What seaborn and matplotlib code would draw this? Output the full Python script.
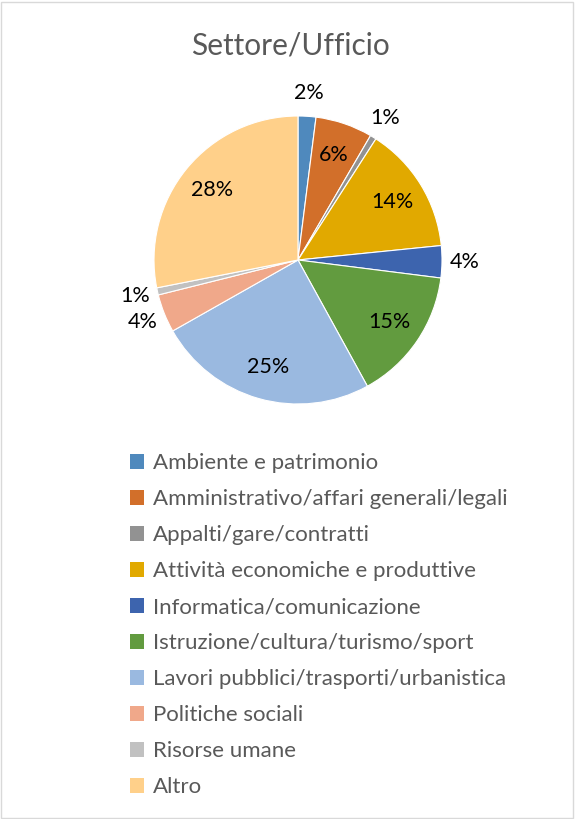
import matplotlib
matplotlib.use("Agg")
import matplotlib.pyplot as plt
import matplotlib.patches as mpatches
import numpy as np
import seaborn as sns

# --- data ---
categories = [
    "Ambiente e patrimonio",
    "Amministrativo/affari generali/legali",
    "Appalti/gare/contratti",
    "Attività economiche e produttive",
    "Informatica/comunicazione",
    "Istruzione/cultura/turismo/sport",
    "Lavori pubblici/trasporti/urbanistica",
    "Politiche sociali",
    "Risorse umane",
    "Altro",
]
shares = [2.0, 6.4, 0.7, 14.3, 3.6, 15.0, 24.8, 4.3, 0.8, 28.1]
colors = ["#4F89BD", "#D26F2A", "#929292", "#E1A900", "#3D64AE",
          "#629B3F", "#9AB9E0", "#F0A88A", "#C1C1C1", "#FFD08A"]
outside = [True, False, True, False, True, False, False, True, True, False]

sns.set_theme(style="white")
plt.rcParams["font.family"] = ["Lato", "DejaVu Sans"]

W, H, DPI = 575, 819, 100
fig = plt.figure(figsize=(W / DPI, H / DPI), dpi=DPI)

# pie axes: centre (298, 260) px, radius 144 px
cx, cy, r = 298, 260, 144
ax = fig.add_axes([(cx - r) / W, (H - cy - r) / H, 2 * r / W, 2 * r / H])
wedges, texts, autotexts = ax.pie(
    shares, colors=colors, startangle=90, counterclock=False,
    autopct="%.0f%%", pctdistance=0.77,
    wedgeprops=dict(edgecolor="white", linewidth=0.8),
    textprops=dict(fontsize=15.5, color="black"),
)
# small slices get their labels outside (Excel "best fit")
for w, t, out in zip(wedges, autotexts, outside):
    if out:
        ang = np.deg2rad((w.theta1 + w.theta2) / 2)
        t.set_position((1.16 * np.cos(ang), 1.16 * np.sin(ang)))
ax.set_xlim(-1, 1)
ax.set_ylim(-1, 1)
ax.axis("off")

fig.text(0.5 * (193 + 388) / W, 1 - 45 / H, "Settore/Ufficio", ha="center",
         va="center", fontsize=21.5, color="#595959")

handles = [mpatches.Patch(facecolor=c, edgecolor="none") for c in colors]
fig.legend(handles, categories, loc="upper left",
           bbox_to_anchor=(110 / W, 1 - 433 / H), frameon=False,
           fontsize=16, labelcolor="#595959", handlelength=0.65,
           handleheight=0.65, handletextpad=0.4, labelspacing=0.72)

# light grey chart border
fig.patches.append(mpatches.Rectangle((1 / W, 1 / H), 1 - 3 / W, 1 - 3 / H,
                                      transform=fig.transFigure, fill=False,
                                      edgecolor="#D9D9D9", linewidth=1))

fig.savefig("out.png", dpi=DPI)
